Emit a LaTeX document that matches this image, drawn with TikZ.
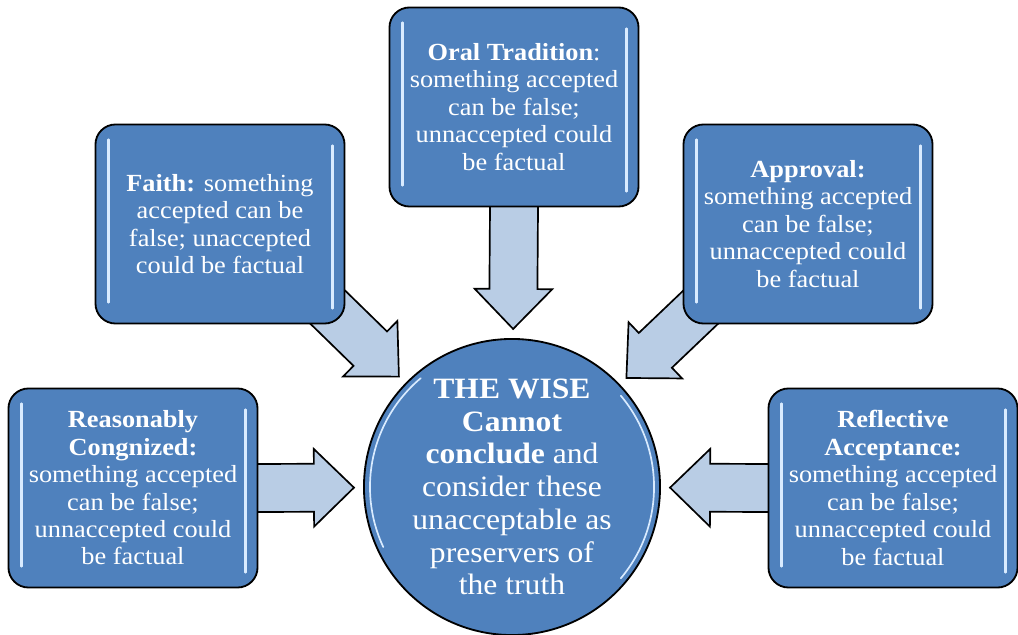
\documentclass[tikz,border=0pt]{standalone}
\usepackage{fontspec}
\setmainfont{Liberation Serif}[FakeStretch=1.07]
\usetikzlibrary{calc,backgrounds}
\definecolor{boxblue}{HTML}{4F81BD}
\definecolor{arrowblue}{HTML}{B9CDE5}
\definecolor{glintblue}{HTML}{D9EBFF}
\tikzset{
  idea/.style={rectangle,draw=black,line width=1.3pt,fill=boxblue,rounded corners=0.5cm,
    minimum width=6.225cm,minimum height=4.975cm,text=white,align=center,
    font=\fontsize{17.5}{19.5}\selectfont},
  hub/.style={circle,draw=black,line width=1.3pt,fill=boxblue,minimum size=7.4cm,
    inner sep=0pt,text=white,align=center,font=\fontsize{21}{23.3}\selectfont},
  fat/.style={draw=black,line width=1.2pt,fill=arrowblue,line join=miter},
  glint/.style={glintblue,line width=1.6pt,line cap=round}
}
\begin{document}
\begin{tikzpicture}[x=0.025cm,y=-0.025cm]
  \useasboundingbox (0,0) rectangle (1018,635);
  % draw centre circle
  \node[hub] (wise) at (512,487) {\textbf{THE WISE}\\\textbf{Cannot}\\\textbf{conclude} and\\consider these\\unacceptable as\\preservers of\\the truth};
  % draw the five boxes
  \node[idea] (reas) at (133,488) {\textbf{Reasonably}\\\textbf{Congnized:}\\something accepted\\can be false;\\unnaccepted could\\be factual};
  \node[idea] (faith) at (220,224) {\textbf{Faith:} something\\accepted can be\\false; unaccepted\\could be factual};
  \node[idea] (oral) at (514,107) {\textbf{Oral Tradition}:\\something accepted\\can be false;\\unnaccepted could\\be factual};
  \node[idea] (appr) at (808,224) {\textbf{Approval:}\\something accepted\\can be false;\\unnaccepted could\\be factual};
  \node[idea] (refl) at (893,488) {\textbf{Reflective}\\\textbf{Acceptance:}\\something accepted\\can be false;\\unnaccepted could\\be factual};
  % draw glossy edges of the boxes
  \foreach \b in {reas,faith,oral,appr,refl}{
    \draw[glint] ([shift={(14,16)}]\b.north west) -- ([shift={(14,-22)}]\b.south west);
    \draw[glint] ([shift={(-13,22)}]\b.north east) -- ([shift={(-13,-16)}]\b.south east);
  }
  % draw glossy rim of the circle
  \draw[glint,line width=1.2pt] ([shift={(205:3.55cm)}]wise.center) arc[start angle=205,end angle=130,radius=3.55cm];
  \draw[glint,line width=1.2pt] ([shift={(40:3.55cm)}]wise.center) arc[start angle=40,end angle=-40,radius=3.55cm];
  % draw block arrows from the boxes to the circle
  \begin{scope}[on background layer]
    \foreach \src/\from in {reas/reas.east,faith/faith.south east,oral/oral.south,appr/appr.south west,refl/refl.west}{
      \coordinate (\src-a) at ($(\from)!-1.2cm!(wise.center)$);
      \coordinate (\src-t) at ($(wise.center)!3.95cm!(\from)$);
      \coordinate (\src-b) at ($(\src-t)!1cm!(\src-a)$);
      \draw[fat] ($(\src-a)!0.6cm!90:(\src-t)$) -- ($(\src-b)!0.6cm!90:(\src-t)$)
        -- ($(\src-b)!0.97cm!90:(\src-t)$) -- (\src-t)
        -- ($(\src-b)!0.97cm!-90:(\src-t)$) -- ($(\src-b)!0.6cm!-90:(\src-t)$)
        -- ($(\src-a)!0.6cm!-90:(\src-t)$) -- cycle;
    }
  \end{scope}
\end{tikzpicture}
\end{document}
